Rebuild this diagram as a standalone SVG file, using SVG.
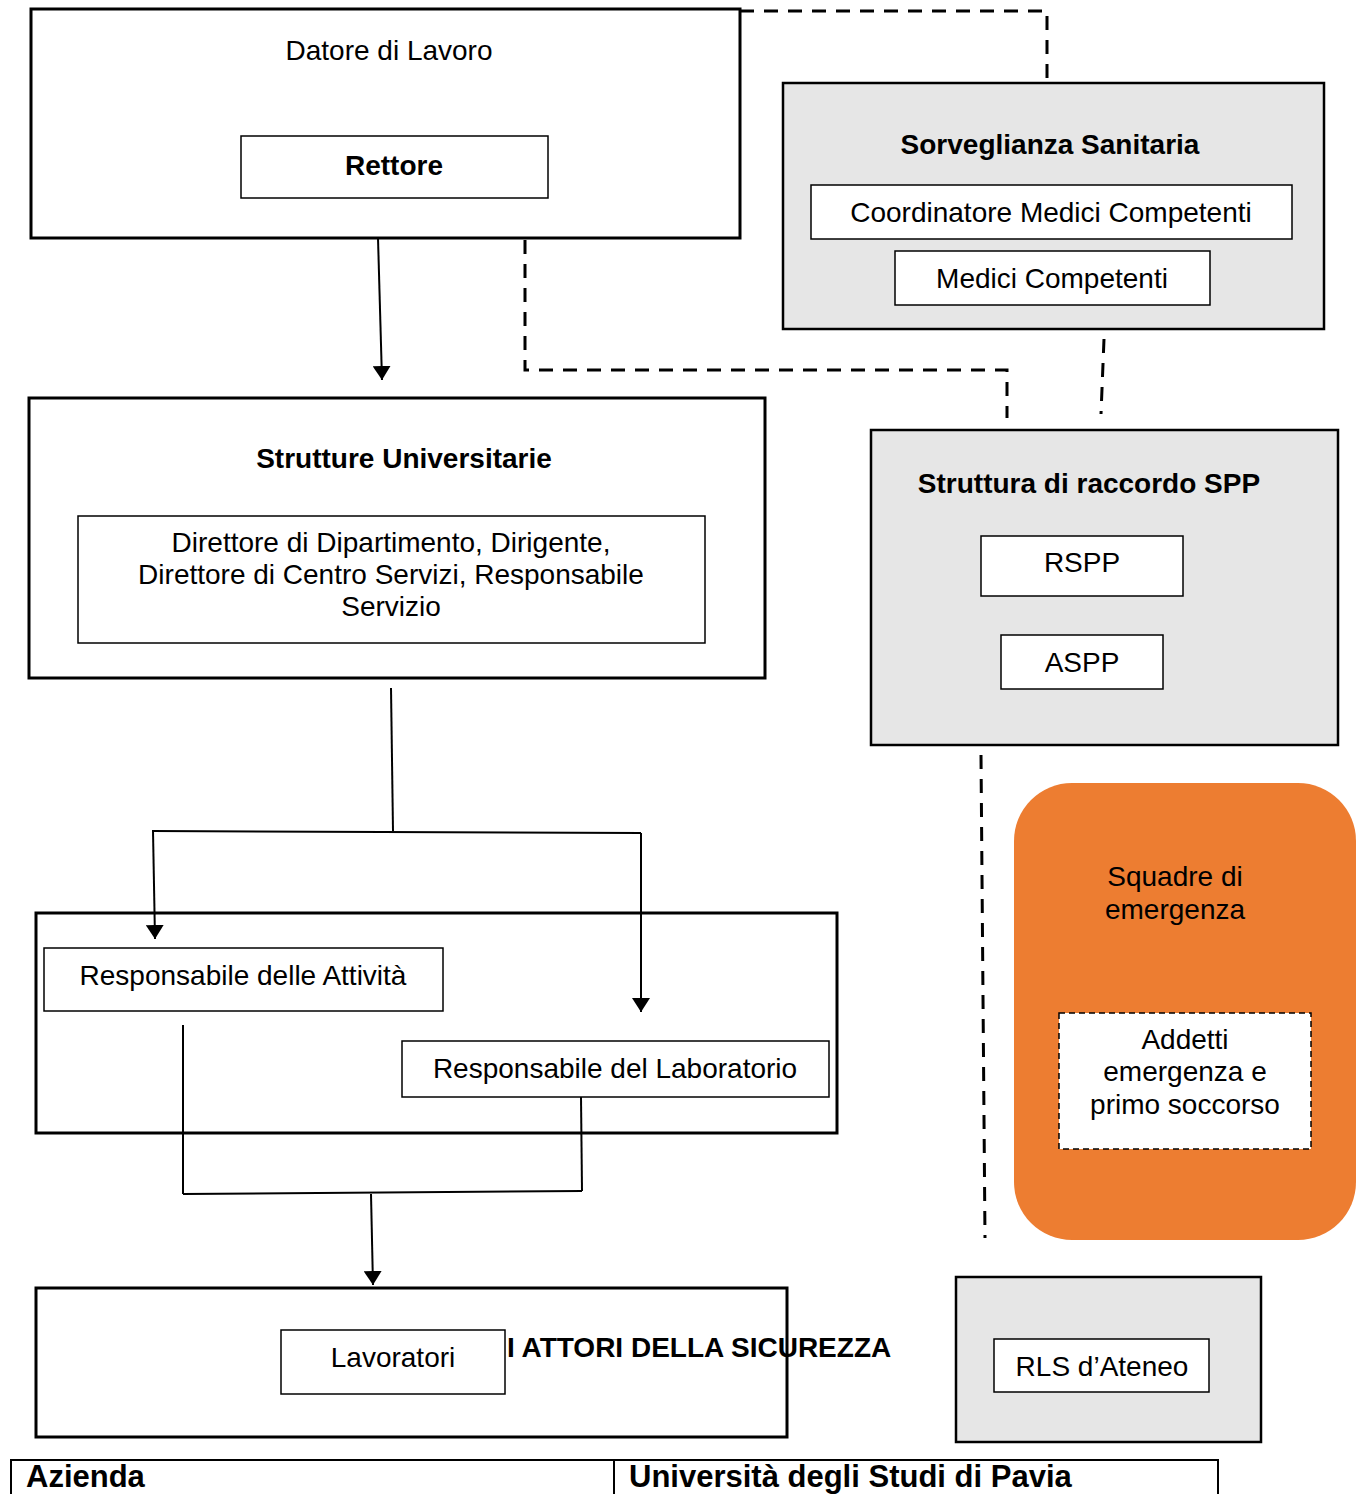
<svg xmlns="http://www.w3.org/2000/svg" width="1364" height="1494" viewBox="0 0 1364 1494">
<style>
text{font-family:"Liberation Sans",Arial,sans-serif;font-size:28px;fill:#000}
.b{font-weight:bold}
.m{text-anchor:middle}
.outer{fill:#fff;stroke:#000;stroke-width:3}
.grey{fill:#e6e6e6;stroke:#000;stroke-width:2.5}
.inner{fill:#fff;stroke:#000;stroke-width:1.5}
.ln{fill:none;stroke:#000;stroke-width:2}
.dash{fill:none;stroke:#000;stroke-width:3;stroke-dasharray:14 10}
</style>
<defs>
<marker id="ah" viewBox="0 0 14 18" refX="14" refY="9" markerWidth="14" markerHeight="18" markerUnits="userSpaceOnUse" orient="auto-start-reverse">
<path d="M0,0 L14,9 L0,18 Z" fill="#000"/>
</marker>
</defs>
<rect width="1364" height="1494" fill="#fff"/>
<g id="datore">
<rect class="outer" x="31" y="9" width="709" height="229"/>
<text class="m" x="389" y="60">Datore di Lavoro</text>
<rect class="inner" x="241" y="136" width="307" height="62"/>
<text class="m b" x="394" y="175">Rettore</text>
</g>
<g id="sorveglianza">
<rect class="grey" x="783" y="83" width="541" height="246"/>
<text class="m b" x="1050" y="154">Sorveglianza Sanitaria</text>
<rect class="inner" x="811" y="185" width="481" height="54"/>
<text class="m" x="1051" y="222">Coordinatore Medici Competenti</text>
<rect class="inner" x="895" y="251" width="315" height="54"/>
<text class="m" x="1052" y="288">Medici Competenti</text>
</g>
<g id="strutture">
<rect class="outer" x="29" y="398" width="736" height="280"/>
<text class="m b" x="404" y="468">Strutture Universitarie</text>
<rect class="inner" x="78" y="516" width="627" height="127"/>
<text class="m" x="391" y="552">Direttore di Dipartimento, Dirigente,</text>
<text class="m" x="391" y="584">Direttore di Centro Servizi, Responsabile</text>
<text class="m" x="391" y="616">Servizio</text>
</g>
<g id="spp">
<rect class="grey" x="871" y="430" width="467" height="315"/>
<text class="m b" x="1089" y="493">Struttura di raccordo SPP</text>
<rect class="inner" x="981" y="536" width="202" height="60"/>
<text class="m" x="1082" y="572">RSPP</text>
<rect class="inner" x="1001" y="635" width="162" height="54"/>
<text class="m" x="1082" y="672">ASPP</text>
</g>
<g id="squadre">
<rect x="1014" y="783" width="342" height="457" rx="58" ry="58" fill="#ed7d31"/>
<text class="m" x="1175" y="886">Squadre di</text>
<text class="m" x="1175" y="919">emergenza</text>
<rect x="1059" y="1013" width="252" height="136" fill="#fff" stroke="#000" stroke-width="1.5" stroke-dasharray="6 4"/>
<text class="m" x="1185" y="1049">Addetti</text>
<text class="m" x="1185" y="1081">emergenza e</text>
<text class="m" x="1185" y="1114">primo soccorso</text>
</g>
<g id="responsabili">
<rect class="outer" x="36" y="913" width="801" height="220"/>
<rect class="inner" x="44" y="948" width="399" height="63"/>
<text class="m" x="243" y="985">Responsabile delle Attività</text>
<rect class="inner" x="402" y="1041" width="427" height="56"/>
<text class="m" x="615" y="1078">Responsabile del Laboratorio</text>
</g>
<g id="lavoratori">
<rect class="outer" x="36" y="1288" width="751" height="149"/>
<rect class="inner" x="281" y="1330" width="224" height="64"/>
<text class="m" x="393" y="1367">Lavoratori</text>
</g>
<g id="titolo">
<text class="b" x="507" y="1357">I ATTORI DELLA SICUREZZA</text>
</g>
<g id="rls">
<rect class="grey" x="956" y="1277" width="305" height="165" stroke-width="3"/>
<rect class="inner" x="994" y="1339" width="215" height="53"/>
<text class="m" x="1102" y="1376">RLS d’Ateneo</text>
</g>
<g id="tabella">
<rect x="11" y="1460" width="1207" height="40" fill="#fff" stroke="#000" stroke-width="2"/>
<line x1="614" y1="1460" x2="614" y2="1494" stroke="#000" stroke-width="2"/>
<text class="b" x="26" y="1487" style="font-size:31px">Azienda</text>
<text class="b" x="629" y="1487" style="font-size:31px">Università degli Studi di Pavia</text>
</g>
<g id="connectors">
<path class="dash" d="M740,11 H1047 V83"/>
<path class="dash" d="M525,240 V370 H1007 V418"/>
<path class="dash" d="M1104,339 L1101,414"/>
<path class="dash" d="M981,755 L985,1238"/>
<path class="ln" d="M378,238 L382,380" marker-end="url(#ah)"/>
<path class="ln" d="M391,688 L393,831"/>
<path class="ln" d="M152,831 L641,833"/>
<path class="ln" d="M153,831 L155,939" marker-end="url(#ah)"/>
<path class="ln" d="M641,833 L641,1012" marker-end="url(#ah)"/>
<path class="ln" d="M183,1025 V1194"/>
<path class="ln" d="M581,1097 L582,1191"/>
<path class="ln" d="M183,1194 L582,1191"/>
<path class="ln" d="M371,1194 L373,1285" marker-end="url(#ah)"/>
</g>
</svg>
